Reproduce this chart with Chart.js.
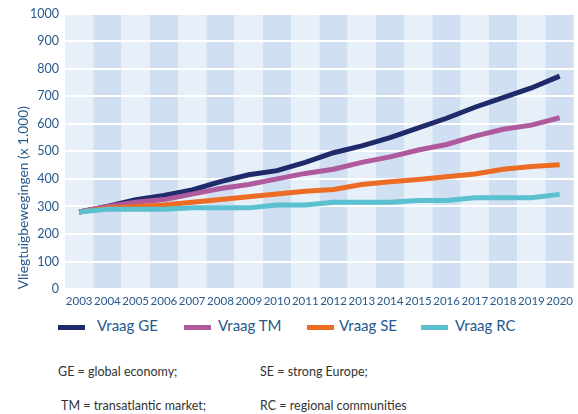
<!DOCTYPE html>
<html><head><meta charset="utf-8">
<script src="https://cdn.jsdelivr.net/npm/chart.js@4/dist/chart.umd.min.js"></script>
<style>
html,body{margin:0;padding:0;background:#fff;width:578px;height:414px;overflow:hidden;font-family:Lato,"Open Sans",sans-serif;}
#wrap{position:absolute;left:0;top:0;width:578px;height:313px;}
.leg{position:absolute;top:316px;font-size:15px;color:#27598d;white-space:nowrap;}
.sw{position:absolute;top:325px;height:5px;width:27px;}
.note{position:absolute;font-size:12.5px;color:#333;white-space:nowrap;}
</style></head><body>
<div id="wrap"><canvas id="c"></canvas></div>
<div class="sw" style="left:58px;background:#1f2a6b"></div><div class="leg" style="left:97px">Vraag GE</div>
<div class="sw" style="left:184px;background:#b05a9e"></div><div class="leg" style="left:218px">Vraag TM</div>
<div class="sw" style="left:307px;background:#ec6c23"></div><div class="leg" style="left:339px">Vraag SE</div>
<div class="sw" style="left:421px;background:#5bc0d0"></div><div class="leg" style="left:455px">Vraag RC</div>
<div class="note" style="left:58px;top:364px">GE = global economy;</div>
<div class="note" style="left:260px;top:364px">SE = strong Europe;</div>
<div class="note" style="left:61px;top:398px">TM = transatlantic market;</div>
<div class="note" style="left:260px;top:398px">RC = regional communities</div>
<script>
const years = ["2003","2004","2005","2006","2007","2008","2009","2010","2011","2012","2013","2014","2015","2016","2017","2018","2019","2020"];
const vraagGE = [280,300,325,340,360,390,415,430,460,495,520,550,585,620,660,695,730,773];
const vraagTM = [280,300,315,325,345,365,380,400,420,435,460,480,505,525,555,580,595,622];
const vraagSE = [280,295,300,305,315,325,335,345,355,362,380,390,398,408,418,435,445,451];
const vraagRC = [280,290,290,290,295,295,295,305,305,315,315,315,322,322,332,332,332,344];
const yTicks = [0,100,200,300,400,500,600,700,800,900,1000];

const bands = {
  id:'bands',
  beforeDraw(chart){
    const {ctx, chartArea:a, scales:{x}} = chart;
    const w = (a.right - a.left)/years.length;
    ctx.save();
    years.forEach((_,i)=>{
      const cx = x.getPixelForValue(i);
      ctx.fillStyle = (i%2===1) ? '#d0dff1' : '#e7f0f8';
      ctx.fillRect(cx - w/2, a.top, w, a.bottom - a.top);
    });
    ctx.restore();
  }
};
const mk = (label,data,color)=>({label,data,borderColor:color,backgroundColor:color,borderWidth:5,pointRadius:0,tension:0,fill:false,borderCapStyle:'butt'});
new Chart(document.getElementById('c'),{
  type:'line',
  data:{labels:years,datasets:[
    mk('Vraag RC',vraagRC,'#5bc0d0'),
    mk('Vraag SE',vraagSE,'#ec6c23'),
    mk('Vraag TM',vraagTM,'#b05a9e'),
    mk('Vraag GE',vraagGE,'#1f2a6b')
  ]},
  options:{
    responsive:true,maintainAspectRatio:false,animation:false,
    layout:{padding:{top:8,right:0,left:0,bottom:0}},
    plugins:{legend:{display:false},tooltip:{enabled:false}},
    scales:{
      x:{offset:true,grid:{display:false,drawTicks:false},border:{display:false},
         ticks:{color:'#27598d',font:{family:'Lato',size:11.5},maxRotation:0,autoSkip:false,padding:5}},
      y:{min:0,max:1000,afterBuildTicks(s){s.ticks=yTicks.map(v=>({value:v}));},
         afterFit(s){s.width=65;},
         grid:{color:'#ffffff',lineWidth:2,drawTicks:false},border:{display:false},
         ticks:{color:'#27598d',font:{family:'Lato',size:12.5},padding:6,callback:(v)=>String(v)},
         title:{display:true,text:'Vliegtuigbewegingen (x 1.000)',align:'start',color:'#27598d',font:{family:'Lato',size:13.8},padding:{top:15,bottom:0}}}
    }
  },
  plugins:[bands]
});
</script>
</body></html>
